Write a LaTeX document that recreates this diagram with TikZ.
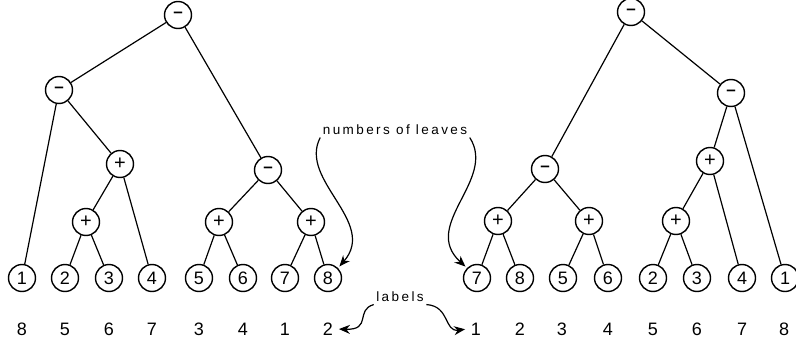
\documentclass[tikz,border=0pt]{standalone}
\usepackage{fontspec}
\setmainfont{Liberation Sans}
\newfontfamily\spaced[LetterSpace=18]{Liberation Sans}
\usetikzlibrary{arrows.meta}

\begin{document}
\begin{tikzpicture}[x=1pt,y=-1pt,line width=1.2pt]
    \tikzstyle{vertex}=[circle,draw,line width=1.4pt,minimum size=27pt,inner sep=0pt,font=\fontsize{18}{20}\selectfont]
    \tikzstyle{minus}=[vertex,font=\fontsize{17}{20}\selectfont\bfseries];
    \tikzstyle{plus}=[vertex,font=\fontsize{20}{22}\selectfont];
    \tikzstyle{num}=[font=\fontsize{18}{20}\selectfont];
    \tikzstyle{annot}=[font=\fontsize{13.5}{15}\selectfont\spaced,inner sep=2pt];
    \tikzstyle{pointer}=[-{Stealth[length=11pt,width=9pt]},shorten >=2pt];

    \useasboundingbox (0,0) rectangle (796,343);

% Left tree
    % Leaves with their labels underneath
    \foreach \name/\x/\lab in {1/22/8,2/65/5,3/109/6,4/152/7,5/199/3,6/243/4,7/285/1,8/328/2}
    {
        \node[vertex] (L-\name) at (\x,278) {\name};
        \node[num] (LL-\name) at (\x,329) {\lab};
    }

    % Inner nodes
    \node[minus] (A) at (178,15) {\textendash};
    \node[minus] (B) at (59,90) {\textendash};
    \node[plus] (C) at (120,164) {+};
    \node[plus] (D) at (86,222) {+};
    \node[minus] (E) at (268,170) {\textendash};
    \node[plus] (F) at (219,222) {+};
    \node[plus] (G) at (311,222) {+};

    \foreach \source/\dest in {A/B,A/E,B/L-1,B/C,C/D,C/L-4,D/L-2,D/L-3,E/F,E/G,F/L-5,F/L-6,G/L-7,G/L-8}
        \draw (\source) -- (\dest);

% Right tree
    % Leaves, named by their number
    \foreach \name/\x in {7/477,8/520,5/563,6/608,2/653,3/697,4/742,1/785}
        \node[vertex] (R-\name) at (\x,278) {\name};

    % Labels
    \foreach \name/\x in {1/476,2/520,3/562,4/608,5/653,6/697,7/742,8/784}
        \node[num] (RL-\name) at (\x,329) {\name};

    % Inner nodes
    \node[minus] (RA) at (631,12) {\textendash};
    \node[minus] (RB) at (545,169) {\textendash};
    \node[plus] (RC) at (498,221) {+};
    \node[plus] (RD) at (589,221) {+};
    \node[minus] (RE) at (731,93) {\textendash};
    \node[plus] (RF) at (710,161) {+};
    \node[plus] (RG) at (676,221) {+};

    \foreach \source/\dest in {RA/RB,RA/RE,RB/RC,RB/RD,RC/R-7,RC/R-8,RD/R-5,RD/R-6,RE/RF,RE/R-1,RF/RG,RF/R-4,RG/R-2,RG/R-3}
        \draw (\source) -- (\dest);

% Annotations
    \node[annot] (leaves) at (395,130) {numbers of leaves};
    \node[annot] (labels) at (400,297) {labels};

    \draw[pointer] (leaves.south west) .. controls (298,180) and (378,222) .. (L-8.north east);
    \draw[pointer] (leaves.south east) .. controls (497,180) and (420,225) .. (R-7.north west);
    \draw[pointer] (labels.south west) .. controls (355,310) and (372,330) .. (LL-8.east);
    \draw[pointer] (labels.south east) .. controls (450,306) and (444,332) .. (RL-1.west);

\end{tikzpicture}
\end{document}
